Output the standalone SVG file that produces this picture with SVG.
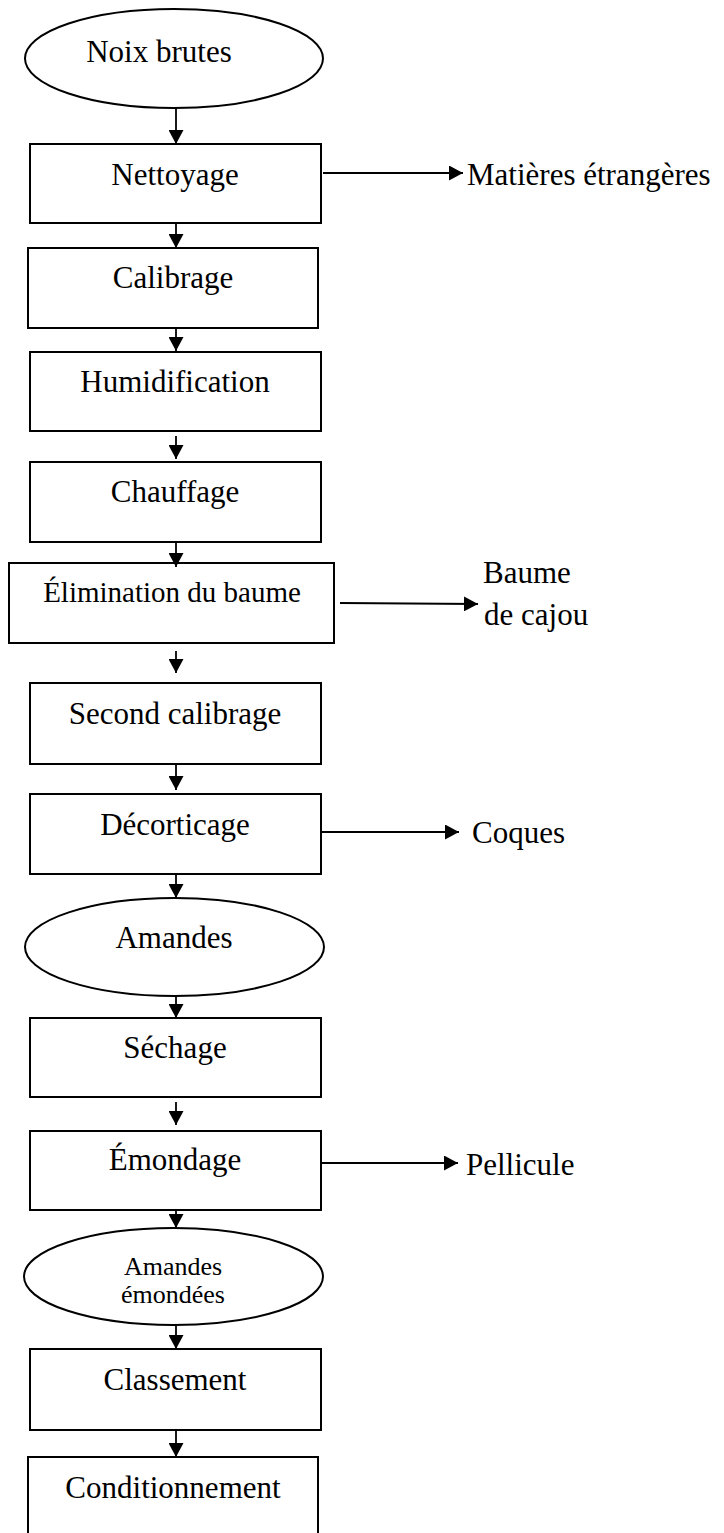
<svg xmlns="http://www.w3.org/2000/svg" width="724" height="1533" viewBox="0 0 724 1533">
<defs>
<marker id="ah" markerUnits="userSpaceOnUse" markerWidth="15" markerHeight="15" refX="14" refY="7.5" orient="auto">
<path d="M0,0 L14,7.5 L0,15 z" fill="#000"/>
</marker>
<style>
.box{fill:#fff;stroke:#000;stroke-width:2}
.t{font-family:"Liberation Serif","Times New Roman",serif;font-size:31px;fill:#000}
.c{text-anchor:middle}
.con line{stroke:#000;stroke-width:1.8;marker-end:url(#ah)}
</style>
</defs>
<rect width="724" height="1533" fill="#fff"/>
<g id="n-noix"><ellipse class="box" cx="174" cy="58.5" rx="149" ry="49.5"/><text class="t c" x="159" y="62">Noix brutes</text></g>
<g id="n-nettoyage"><rect class="box" x="30" y="144" width="291" height="79"/><text class="t c" x="175" y="185">Nettoyage</text></g>
<g id="n-calibrage"><rect class="box" x="28" y="248" width="290" height="80"/><text class="t c" x="173" y="288">Calibrage</text></g>
<g id="n-humid"><rect class="box" x="30" y="352" width="291" height="79"/><text class="t c" x="175" y="392">Humidification</text></g>
<g id="n-chauffage"><rect class="box" x="30" y="462" width="291" height="80"/><text class="t c" x="175" y="502">Chauffage</text></g>
<g id="n-elim"><rect class="box" x="9" y="563" width="325" height="80"/><text class="t c" x="172" y="602" style="font-size:29px">Élimination du baume</text></g>
<g id="n-second"><rect class="box" x="30" y="683" width="291" height="81"/><text class="t c" x="175" y="724">Second calibrage</text></g>
<g id="n-decort"><rect class="box" x="30" y="794" width="291" height="80"/><text class="t c" x="175" y="835">Décorticage</text></g>
<g id="n-amandes"><ellipse class="box" cx="174.5" cy="947" rx="149.5" ry="49"/><text class="t c" x="174" y="948">Amandes</text></g>
<g id="n-sechage"><rect class="box" x="30" y="1018" width="291" height="79"/><text class="t c" x="175" y="1058">Séchage</text></g>
<g id="n-emondage"><rect class="box" x="30" y="1131" width="291" height="79"/><text class="t c" x="175" y="1170">Émondage</text></g>
<g id="n-amandes-em"><ellipse class="box" cx="173.5" cy="1276.5" rx="149.5" ry="48.5"/><text class="t c" x="173" y="1275" style="font-size:26px">Amandes</text><text class="t c" x="173" y="1303" style="font-size:26px">émondées</text></g>
<g id="n-classement"><rect class="box" x="30" y="1349" width="291" height="81"/><text class="t c" x="175" y="1390">Classement</text></g>
<g id="n-condit"><rect class="box" x="28" y="1457" width="290" height="90"/><text class="t c" x="173" y="1498">Conditionnement</text></g>
<g id="n-matieres"><text class="t" x="467" y="185">Matières étrangères</text></g>
<g id="n-baume"><text class="t" x="483" y="583">Baume</text><text class="t" x="484" y="625">de cajou</text></g>
<g id="n-coques"><text class="t" x="472" y="843">Coques</text></g>
<g id="n-pellicule"><text class="t" x="466" y="1175">Pellicule</text></g>
<g id="connectors" class="con">
<line x1="176" y1="108" x2="176" y2="144"/>
<line x1="176" y1="223" x2="176" y2="248"/>
<line x1="176" y1="328" x2="176" y2="351"/>
<line x1="176" y1="436" x2="176" y2="459"/>
<line x1="176" y1="542" x2="176" y2="567"/>
<line x1="176" y1="651" x2="176" y2="673"/>
<line x1="176" y1="764" x2="176" y2="790"/>
<line x1="176" y1="874" x2="176" y2="898"/>
<line x1="176" y1="996" x2="176" y2="1018"/>
<line x1="176" y1="1102" x2="176" y2="1125"/>
<line x1="176" y1="1210" x2="176" y2="1228"/>
<line x1="176" y1="1325" x2="176" y2="1349"/>
<line x1="176" y1="1430" x2="176" y2="1457"/>
<line x1="323" y1="173" x2="463" y2="173"/>
<line x1="340" y1="603" x2="478" y2="604"/>
<line x1="321" y1="832" x2="459" y2="832"/>
<line x1="321" y1="1163" x2="458" y2="1163"/>
</g>
</svg>
